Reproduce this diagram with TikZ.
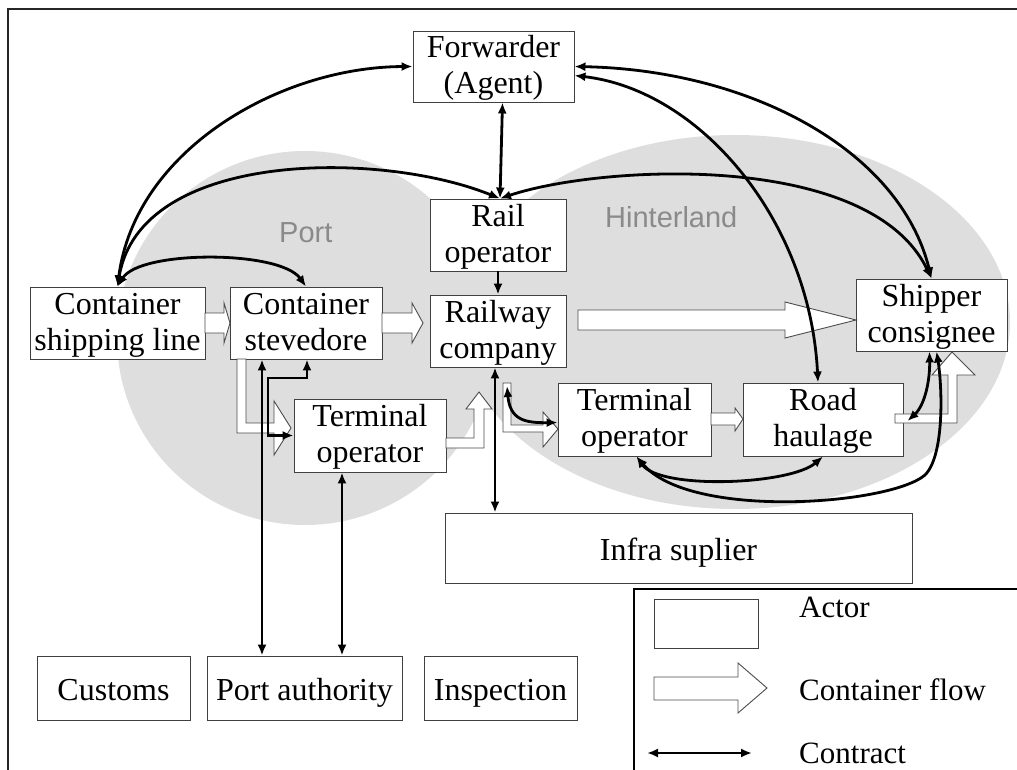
\documentclass[tikz,border=0pt]{standalone}
\usepackage{fontspec}
\setmainfont{Liberation Serif}
\newfontfamily\regionfont{Liberation Sans}
\usetikzlibrary{arrows.meta,calc}
\definecolor{regiongray}{RGB}{222,222,222}
\definecolor{regiontext}{RGB}{138,138,138}
\begin{document}
\begin{tikzpicture}[x=1pt,y=-1pt,
  actor/.style={draw=black!75, line width=0.9pt, fill=white, inner sep=0pt,
    align=center, font=\fontsize{32}{36}\selectfont},
  oneline/.style={actor, text height=30pt, text depth=6pt},
  twoline/.style={actor, text height=60pt, text depth=6pt},
  contract/.style={line width=2.8pt, >={Latex[length=11pt,width=9pt]}, <->},
  flow/.style={draw=black!70, line width=0.9pt, fill=white, line join=miter},
  regionlabel/.style={text=regiontext, font=\regionfont\fontsize{29}{34}\selectfont,
    anchor=base west, inner sep=0pt},
  legendtext/.style={font=\fontsize{31}{36}\selectfont, anchor=base west, inner sep=0pt}
]
\path[use as bounding box] (0,0) rectangle (1017,770);
\clip (0,0) rectangle (1017,770);

% regions
\fill[regiongray] (305,338) ellipse [x radius=188pt, y radius=187pt];
\fill[regiongray] (735,322) ellipse [x radius=275pt, y radius=187pt];
\node[regionlabel] (portlabel) at (279,243) {Port};
\node[regionlabel] (hinterlabel) at (605,227) {Hinterland};

% outer frame
\draw[line width=2pt, black!85] (8,790) -- (8,9) -- (1030,9);

% actors
\node[twoline, minimum width=161pt, minimum height=71pt] (fwd)    at (493.5,66.5) {Forwarder\\(Agent)};
\node[twoline, minimum width=136pt, minimum height=72pt] (railop) at (498,235)    {Rail\\operator};
\node[twoline, minimum width=136pt, minimum height=72pt] (railco) at (498,331)    {Railway\\company};
\node[twoline, minimum width=175pt, minimum height=72pt] (csl)    at (117.5,323)  {Container\\shipping line};
\node[twoline, minimum width=152pt, minimum height=72pt] (stev)   at (306,323)    {Container\\stevedore};
\node[twoline, minimum width=152pt, minimum height=73pt] (termp)  at (370,435.5)  {Terminal\\operator};
\node[twoline, minimum width=153pt, minimum height=73pt] (termh)  at (634.5,419.5){Terminal\\operator};
\node[twoline, minimum width=160pt, minimum height=73pt] (road)   at (823,419.5)  {Road\\haulage};
\node[twoline, minimum width=151pt, minimum height=72pt] (ship)   at (931.5,315)  {Shipper\\consignee};
\node[oneline, minimum width=467pt, minimum height=70pt] (infra)  at (678.5,548)  {Infra suplier};
\node[oneline, minimum width=153pt, minimum height=64pt] (customs) at (113.5,688) {Customs};
\node[oneline, minimum width=195pt, minimum height=64pt] (portauth) at (304.5,688) {Port authority};
\node[oneline, minimum width=153pt, minimum height=64pt] (inspect) at (500.5,688) {Inspection};

% container flows
\draw[flow] (205,313) -- (224,313) -- (224,303) -- (230,323) -- (224,343) -- (224,333) -- (205,333) -- cycle;
\draw[flow] (382,313) -- (412,313) -- (412,303) -- (423,323) -- (412,343) -- (412,333) -- (382,333) -- cycle;
\draw[flow] (578,310) -- (785,310) -- (785,302) -- (856,320) -- (785,338) -- (785,330) -- (578,330) -- cycle;
\draw[flow] (237,359) -- (237,433) -- (274,433) -- (274,455) -- (291,428) -- (274,401) -- (274,423) -- (246,423) -- (246,359) -- cycle;
\draw[flow] (446,438) -- (474,438) -- (474,409) -- (466,409) -- (479,392) -- (492,409) -- (484,409) -- (484,448) -- (446,448) -- cycle;
\draw[flow] (503,383) -- (503,432) -- (543,432) -- (543,447) -- (558,429) -- (543,412) -- (543,425) -- (511,425) -- (511,383) -- cycle;
\draw[flow] (711,413) -- (735,413) -- (735,408) -- (743,419) -- (735,431) -- (735,425) -- (711,425) -- cycle;
\draw[flow] (895,414) -- (948,414) -- (948,375) -- (932,375) -- (952,352) -- (975,375) -- (957,375) -- (957,423) -- (895,423) -- cycle;

% contracts
\draw[contract] (csl.north) .. controls (135,150) and (280,67) .. (fwd.west);
\draw[contract] (csl.north) .. controls (140,150) and (380,150) .. ([xshift=2pt]railop.north);
\draw[contract] (csl.north) .. controls (140,250) and (280,250) .. (stev.north);
\draw[contract] ([xshift=9pt]fwd.south) -- ([xshift=2pt]railop.north);
\draw[contract] ([xshift=2pt]railop.north) .. controls (600,165) and (870,150) .. (ship.north);
\draw[contract] (fwd.east) .. controls (750,70) and (900,150) .. (ship.north);
\draw[contract] ([yshift=-9pt]fwd.east) .. controls (700,90) and (810,220) .. ([xshift=-5pt]road.north);
\draw[contract, ->] (railop.south) -- (railco.north);
\draw[contract] ([xshift=-3pt]railco.south) -- ([xshift=-3pt]railco.south |- infra.north);
\draw[contract] ([xshift=-44pt]stev.south) -- ([xshift=-44pt]stev.south |- portauth.north);
\draw[contract] ([xshift=-28pt]termp.south) -- ([xshift=-28pt]termp.south |- portauth.north);
\draw[contract, line join=miter] ([xshift=1pt]stev.south) |- (268,378) |- (termp.west);
\coordinate (flowtop) at (507,386);
\draw[contract] (flowtop) .. controls (510,420) and (525,423) .. ([yshift=-3pt]termh.west);
\draw[contract] ([xshift=2pt]termh.south) .. controls (660,490) and (790,485) .. (road.south);
\draw[contract] ([xshift=2pt]termh.south) .. controls (690,520) and (890,505) .. (925,475)
  .. controls (945,455) and (942,385) .. ([xshift=5pt]ship.south);
\draw[contract] ([xshift=4pt,yshift=-1.5pt]road.east) .. controls (925,405) and (930,380) .. ([xshift=-2pt]ship.south);

% legend
\draw[line width=1.6pt] (634,790) -- (634,589) -- (1030,589);
\node[actor, minimum width=104pt, minimum height=49pt] (legactor) at (706,623.5) {};
\draw[flow] (654,677) -- (738,677) -- (738,663) -- (767,688) -- (738,713) -- (738,700) -- (654,700) -- cycle;
\coordinate (legL) at (647,753);
\coordinate (legR) at (752,753);
\draw[contract] (legL) -- (legR);
\node[legendtext] (tactor) at (799,617) {Actor};
\node[legendtext] (tflow) at (799,700) {Container flow};
\node[legendtext] (tcontract) at (799,763) {Contract};
\end{tikzpicture}
\end{document}
